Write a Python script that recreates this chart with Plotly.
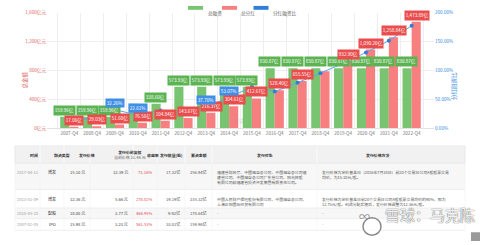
import plotly.graph_objects as go

# ---------------- data ----------------
categories = ["2007-Q4", "2008-Q4", "2009-Q4", "2010-Q4", "2011-Q4", "2012-Q4", "2013-Q4", "2014-Q4",
              "2015-Q4", "2016-Q4", "2017-Q4", "2018-Q4", "2019-Q4", "2020-Q4", "2021-Q4", "2022-Q4"]
total_financing = [159.96, 159.96, 159.96, 338.60, 338.60, 573.93, 573.93, 573.93,
                   573.93, 830.87, 830.87, 830.87, 830.87, 830.87, 830.87, 830.87]
total_dividends = [17.06, 29.03, 51.60, 76.56, 104.84, 143.67, 216.37, 304.61,
                   412.67, 528.40, 655.55, 790.55, 932.90, 1090.20, 1258.84, 1473.89]
payout_ratio = [10.67, 18.15, 32.26, 22.61, 30.96, 25.03, 37.70, 53.07,
                71.90, 63.60, 78.90, 95.15, 112.28, 131.21, 151.51, 177.39]

left_tick_vals = [0, 400, 800, 1200, 1600]
left_tick_text = ["0亿元", "400亿元", "800亿元", "1,200亿元", "1,600亿元"]
right_tick_vals = [0, 50, 100, 150, 200]
right_tick_text = ["0.00%", "50.00%", "100.00%", "150.00%", "200.00%"]

hidden_green_labels = ["2010-Q4"]
hidden_red_labels = ["2018-Q4"]
shown_ratio_labels = ["2009-Q4", "2010-Q4", "2013-Q4", "2014-Q4"]

legend_names = ["总融资", "总分红", "分红融资比"]

table_headers = ["时间", "融资类型", "发行价格",
                 "发行价前复权<br><span style='color:#999'>当前价格 21.46 元</span>",
                 "收益率", "发行数量(股)", "募资金额", "发行对象", "发行价格方法"]
col_dates = ["2017-04-11", "2013-01-09", "2010-05-20", "2007-02-05"]
col_types = ["增发", "增发", "配股", "IPO"]
col_issue_price = ["15.10 元", "12.36 元", "18.00 元", "15.98 元"]
col_adj_price = ["12.39 元", "5.66 元", "3.77 元", "3.23 元"]
col_return = ["73.16%", "278.02%", "466.95%", "561.53%"]
col_shares = ["17.22亿", "19.19亿", "9.92亿", "10.01亿"]
col_raised = ["256.94亿", "235.32亿", "178.64亿", "159.96亿"]
col_targets = [
    "福建省财政厅、中国烟草总公司、中国烟草总公司福<br>建省公司、中国烟草总公司广东省公司、阳光控股<br>有限公司和福建省投资开发集团有限责任公司。",
    "中国人民财产保险股份有限公司、中国烟草总公司、<br>上海正阳国际经贸有限公司",
    "-", "-"]
col_method = [
    "发行价格为定价基准日（2016年7月30日）前20个交易日公司A股股票交易<br>均价，为15.10元/股。",
    "发行价格为定价基准日前20个交易日公司A股股票交易均价的90%，即为<br>12.75元/股。利润分配实施后，发行价格调整为12.36元/股。",
    "-", "-"]

# ---------------- styling ----------------
W, H = 480, 245
def px(x): return x / W
def py(y): return 1 - y / H

FONT = "Noto Sans CJK SC, Noto Sans, sans-serif"
GREEN = "#78c470"
RED = "#f77f7f"
BLUE_LINE = "#5aa8ea"
BLUE_DOT = "#2f7ed8"
GREEN_LBL = "#5cb352"
RED_LBL = "#ea4d4d"
BLUE_LBL = "#3f8fe6"
AX_RED = "#e06666"
AX_BLUE = "#3b8ede"

fig = go.Figure()
fig.add_bar(x=categories, y=total_financing, marker=dict(color=GREEN, line=dict(width=0)), name=legend_names[0])
fig.add_bar(x=categories, y=total_dividends, marker=dict(color=RED, line=dict(width=0)), name=legend_names[1])
fig.add_scatter(x=categories, y=payout_ratio, yaxis="y2", mode="lines+markers", name=legend_names[2],
                line=dict(color=BLUE_LINE, width=1), marker=dict(color=BLUE_DOT, size=4))

ann = []
# value labels
for c, v in zip(categories, total_financing):
    if c in hidden_green_labels:
        continue
    ann.append(dict(x=c, y=v, xref="x", yref="y", xshift=-5, yshift=1, yanchor="bottom",
                    text=f"{v:,.2f}亿", showarrow=False, bgcolor=GREEN_LBL, borderpad=0.8,
                    font=dict(size=4.6, color="white", family=FONT)))
for c, v in zip(categories, total_dividends):
    if c in hidden_red_labels:
        continue
    ann.append(dict(x=c, y=v, xref="x", yref="y", xshift=5, yshift=1, yanchor="bottom",
                    text=f"{v:,.2f}亿", showarrow=False, bgcolor=RED_LBL, borderpad=0.8,
                    font=dict(size=4.6, color="white", family=FONT)))
for c, v in zip(categories, payout_ratio):
    if c not in shown_ratio_labels:
        continue
    ann.append(dict(x=c, y=v, xref="x", yref="y2", yshift=2, yanchor="bottom",
                    text=f"{v:.2f}%", showarrow=False, bgcolor=BLUE_LBL, borderpad=0.8,
                    font=dict(size=4.6, color="white", family=FONT)))

# axis titles
ann.append(dict(x=px(19), y=py(69), xref="paper", yref="paper", text="总金额", textangle=-90,
                showarrow=False, font=dict(size=5.5, color=AX_RED, family=FONT)))
ann.append(dict(x=px(460), y=py(69), xref="paper", yref="paper", text="分红融资比", textangle=-90,
                showarrow=False, font=dict(size=5.5, color=AX_BLUE, family=FONT)))

shapes = []
# legend
leg = [(188, 203, GREEN, 205.5), (222, 237, RED, 239), (253.5, 268.5, "#2f7ed8", 270.5)]
for (x0, x1, col, tx), name in zip(leg, legend_names):
    shapes.append(dict(type="rect", xref="paper", yref="paper", x0=px(x0), x1=px(x1), y0=py(7), y1=py(3),
                       fillcolor=col, line=dict(width=0)))
    ann.append(dict(x=px(tx), y=py(5), xref="paper", yref="paper", xanchor="left", text=name,
                    showarrow=False, font=dict(size=4.6, color="#666", family=FONT)))

# faint watermark in chart
ann.append(dict(x=px(239), y=py(121), xref="paper", yref="paper", text="雪球", showarrow=False,
                font=dict(size=5.5, color="rgba(150,150,150,0.35)", family=FONT)))

# ---------------- table ----------------
col_edges = [15, 40, 64, 90, 133, 157, 185, 212, 317, 465]
row_edges = [147, 165, 192, 211, 222, 234]
row_fills = ["#f1f1f1", "#f7f7f7", "#ffffff", "#f7f7f7", "#ffffff"]
for i, fc in enumerate(row_fills):
    shapes.append(dict(type="rect", xref="paper", yref="paper", x0=px(col_edges[0]), x1=px(col_edges[-1]),
                       y0=py(row_edges[i + 1]), y1=py(row_edges[i]), fillcolor=fc, line=dict(width=0), layer="below"))
for y in row_edges:
    shapes.append(dict(type="line", xref="paper", yref="paper", x0=px(col_edges[0]), x1=px(col_edges[-1]),
                       y0=py(y), y1=py(y), line=dict(color="#e6e6e6", width=0.6)))
for i, x in enumerate(col_edges):
    color = "#ffffff" if 0 < i < len(col_edges) - 1 else "#e6e6e6"
    shapes.append(dict(type="line", xref="paper", yref="paper", x0=px(x), x1=px(x),
                       y0=py(row_edges[1]), y1=py(row_edges[0]), line=dict(color=color, width=0.8)))
    shapes.append(dict(type="line", xref="paper", yref="paper", x0=px(x), x1=px(x),
                       y0=py(row_edges[-1]), y1=py(row_edges[1]), line=dict(color="#eeeeee", width=0.5)))

for i, h in enumerate(table_headers):
    cx = (col_edges[i] + col_edges[i + 1]) / 2
    ann.append(dict(x=px(cx), y=py((row_edges[0] + row_edges[1]) / 2), xref="paper", yref="paper",
                    text=h, showarrow=False, font=dict(size=3.9, color="#333", family=FONT, weight=600)))

columns = [col_dates, col_types, col_issue_price, col_adj_price, col_return, col_shares, col_raised,
           col_targets, col_method]
aligns = ["center", "center", "right", "right", "right", "right", "right", "left", "left"]
colors = ["#999", "#333", "#444", "#444", "#e0474c", "#555", "#555", "#555", "#555"]
sizes = [4.1, 4.1, 4.1, 4.1, 4.1, 4.1, 4.1, 3.9, 3.9]
for ci, col in enumerate(columns):
    for ri, txt in enumerate(col):
        top = row_edges[ri + 1]
        bot = row_edges[ri + 2]
        if ri < 2:
            y = py(top + 4.3)
            yanchor = "top"
        else:
            y = py((top + bot) / 2)
            yanchor = "middle"
        a = aligns[ci]
        if a == "center":
            x, xa = (col_edges[ci] + col_edges[ci + 1]) / 2, "center"
        elif a == "right":
            x, xa = col_edges[ci + 1] - 3, "right"
        else:
            x, xa = col_edges[ci] + 3, "left"
        ann.append(dict(x=px(x), y=y, xref="paper", yref="paper", xanchor=xa, yanchor=yanchor,
                        align=a, text=txt, showarrow=False,
                        font=dict(size=sizes[ci], color=colors[ci], family=FONT)))

# watermark bottom right
shapes.append(dict(type="circle", xref="paper", yref="paper", x0=px(363), x1=px(381), y0=py(239), y1=py(221),
                   fillcolor="rgba(255,255,255,0.6)", line=dict(color="#8a8a8a", width=1.5)))
ann.append(dict(x=px(372), y=py(230), xref="paper", yref="paper", text="∞", showarrow=False,
                font=dict(size=11, color="#8a8a8a", family=FONT)))
ann.append(dict(x=px(383), y=py(230.5), xref="paper", yref="paper", xanchor="left", text="雪球：马克陈",
                showarrow=False,
                font=dict(size=15, color="rgba(255,255,255,0.92)", family=FONT,
                          shadow="0px 0px 1px #666, 0px 0px 1px #666")))
shapes.append(dict(type="rect", xref="paper", yref="paper", x0=px(471), x1=px(480), y0=py(245), y1=py(236),
                   fillcolor="#9a9a9a", line=dict(width=0)))

fig.update_layout(
    width=W, height=H, margin=dict(l=0, r=0, t=0, b=0),
    paper_bgcolor="white", plot_bgcolor="white",
    showlegend=False, barmode="group", bargap=0.2, bargroupgap=0,
    font=dict(family=FONT),
    xaxis=dict(domain=[px(47), px(434)], type="category", tickson="boundaries", showgrid=True,
               gridcolor="#eeeeee", gridwidth=0.6, ticks="outside", ticklen=2, tickcolor="rgba(0,0,0,0)",
               tickangle=0, showline=True, linecolor="#e2e2e2", linewidth=0.6,
               tickfont=dict(size=4.6, color="#777", family=FONT)),
    yaxis=dict(domain=[py(129), py(10)], range=[0, 1600], tickvals=left_tick_vals, ticktext=left_tick_text,
               showgrid=True, gridcolor="#eeeeee", gridwidth=0.6, zeroline=False, ticks="",
               tickfont=dict(size=4.6, color=AX_RED, family=FONT)),
    yaxis2=dict(overlaying="y", side="right", range=[0, 200], tickvals=right_tick_vals,
                ticktext=right_tick_text, showgrid=False, zeroline=False, ticks="",
                tickfont=dict(size=4.6, color=AX_BLUE, family=FONT)),
    annotations=ann, shapes=shapes,
)

fig.write_html("out.html")
